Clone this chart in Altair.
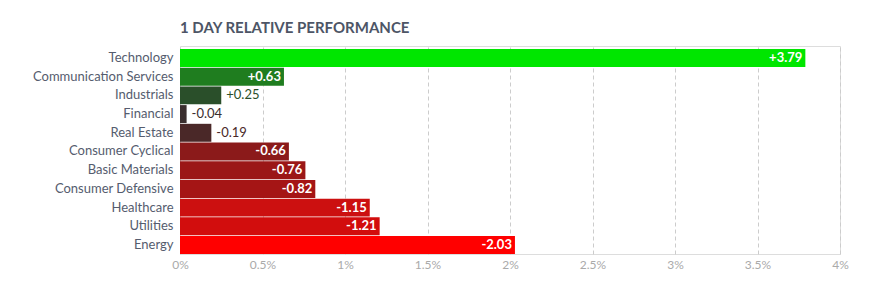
import altair as alt
import pandas as pd

sectors = ["Technology", "Communication Services", "Industrials", "Financial",
           "Real Estate", "Consumer Cyclical", "Basic Materials",
           "Consumer Defensive", "Healthcare", "Utilities", "Energy"]
values = [3.79, 0.63, 0.25, -0.04, -0.19, -0.66, -0.76, -0.82, -1.15, -1.21, -2.03]
colors = ["#00e600", "#1f7d1f", "#2a4f2a", "#3a2e2e", "#4a2828", "#8b1a1a",
          "#9b1717", "#a51515", "#cc1010", "#d20d0d", "#ff0000"]
x_ticks = [0, 0.5, 1, 1.5, 2, 2.5, 3, 3.5, 4]

df = pd.DataFrame({
    "sector": sectors,
    "value": values,
    "color": colors,
})
df["mag"] = df["value"].abs()
df["label"] = [f"{v:+.2f}" for v in values]
df["inside"] = df["mag"] > 0.5

FONT = "Lato"

base = alt.Chart(df).encode(
    y=alt.Y("sector:N", sort=sectors, title=None,
            scale=alt.Scale(paddingInner=0.04, paddingOuter=0.08, align=1),
            axis=alt.Axis(ticks=False, domain=False, labelPadding=7,
                          labelFontSize=13, labelColor="#555c6e", labelFont=FONT,
                          grid=False)),
)

bars = base.mark_bar().encode(
    x=alt.X("mag:Q", title=None,
            scale=alt.Scale(domain=[0, 4], nice=False),
            axis=alt.Axis(values=x_ticks, labelExpr="datum.value + '%'",
                          ticks=False, domain=False, labelPadding=5,
                          labelFlush=False,
                          labelFontSize=12, labelColor="#aaaaaa", labelFont=FONT,
                          grid=True, gridColor="#cccccc", gridDash=[4, 3],
                          gridWidth=1)),
    color=alt.Color("color:N", scale=None),
)

inside_text = base.transform_filter("datum.inside").mark_text(
    align="right", baseline="middle", dx=-3, font=FONT, fontSize=13,
    fontWeight="bold", color="white"
).encode(x="mag:Q", text="label:N")

outside_text = base.transform_filter("!datum.inside").mark_text(
    align="left", baseline="middle", dx=5, font=FONT, fontSize=13,
).encode(x="mag:Q", text="label:N", color=alt.Color("color:N", scale=None))

chart = alt.layer(bars, inside_text, outside_text).properties(
    width=660, height=208,
    title=alt.TitleParams("1 DAY RELATIVE PERFORMANCE", anchor="start",
                          frame="group",
                          font=FONT, fontSize=15, fontWeight="bold",
                          color="#4d5566", offset=10),
    autosize=alt.AutoSizeParams(type="none"),
    padding={"left": 180, "top": 46, "right": 55, "bottom": 28},
).configure_view(
    stroke="#cccccc", strokeDash=[4, 3], strokeWidth=1
).configure(background="white")

chart.save("out.html", embed_options={"renderer": "svg", "actions": False})
